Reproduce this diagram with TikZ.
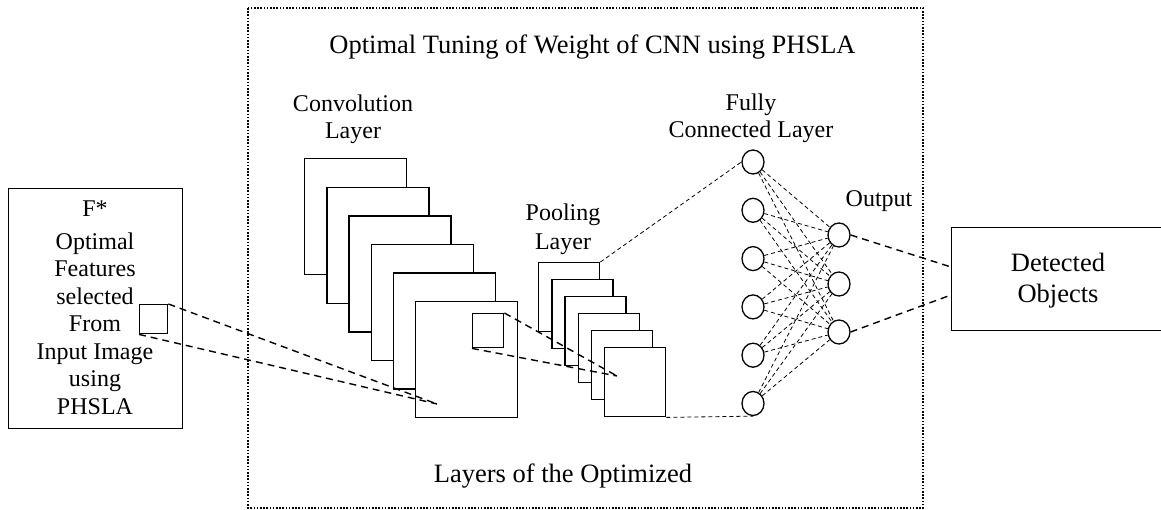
\documentclass[tikz,border=0pt]{standalone}
\usepackage{fontspec}
\setmainfont{Liberation Serif}
\usetikzlibrary{shapes.geometric}
\begin{document}
\begin{tikzpicture}[x=1pt,y=-1pt,
  lbl/.style={font=\fontsize{24}{27.5}\selectfont, inner sep=0pt, anchor=base, align=center},
  biglbl/.style={font=\fontsize{26.5}{31}\selectfont, inner sep=0pt, anchor=base, align=center},
  sq/.style={draw, line width=1.4pt, fill=white, inner sep=0pt, anchor=north west},
  neuron/.style={draw, line width=1.3pt, ellipse, minimum width=22pt, minimum height=24pt, inner sep=0pt, fill=white},
  thickdash/.style={line width=1.4pt, dash pattern=on 7pt off 5pt},
  thindash/.style={line width=0.8pt, dash pattern=on 4pt off 3pt},
  dotbox/.style={line width=1.6pt, dash pattern=on 1.6pt off 1.6pt},
  boxst/.style={draw, line width=1.4pt, inner sep=0pt}
]
\useasboundingbox (0,0) rectangle (1161,510);

% outer dotted box
\draw[dotbox] (248,8) rectangle (923,508);
\node[biglbl] (title) at (592.5,54) {Optimal Tuning of Weight of CNN using PHSLA};
\node[biglbl] (bottomlbl) at (563,482) {Layers of the Optimized};

% left input box
\node[boxst, minimum width=174pt, minimum height=240pt, anchor=north west] (inbox) at (8,188) {};
\node[lbl] (fstar) at (95,217) {F*};
\node[lbl] (intext) at (95,414) {Optimal\\Features\\selected\\From\\Input Image\\using\\PHSLA};
\node[sq, minimum width=28pt, minimum height=29pt] (ls) at (139,304) {};

% convolution layers
\node[lbl] (convlbl) at (353,139) {Convolution\\Layer};
\foreach \i in {0,...,5}{
  \node[sq, minimum width=102pt, minimum height=116pt] (c\i) at ({304+22.2*\i},{158+28.6*\i}) {};
}
\node[sq, minimum width=31pt, minimum height=34pt] (cs) at (472,313) {};
\coordinate (cfocus) at (437,404);
\draw[thickdash] (ls.north east) -- (cfocus);
\draw[thickdash] (ls.south west) -- (cfocus);

% pooling layers
\node[lbl, font=\fontsize{24}{29}\selectfont] (poollbl) at (563,250) {Pooling\\Layer};
\foreach \i in {0,...,5}{
  \node[sq, minimum width=61pt, minimum height=69pt] (p\i) at ({538+13.2*\i},{262+17*\i}) {};
}
\coordinate (pfocus) at (617,376);
\draw[thickdash] (cs.north east) -- (pfocus);
\draw[thickdash] (cs.south west) -- (pfocus);

% fully connected layer
\node[lbl] (fclbl) at (751,138) {Fully\\Connected Layer};
\foreach \i in {0,...,5}{
  \node[neuron] (f\i) at (753,{162+48.3*\i}) {};
}
% output layer
\node[lbl] (outlbl) at (879,207) {Output};
\node[neuron] (o0) at (839,235) {};
\node[neuron] (o1) at (839,284) {};
\node[neuron] (o2) at (839,332) {};

\foreach \i in {0,...,5}{
  \foreach \j in {0,1,2}{
    \draw[thindash] (f\i) -- (o\j);
  }
}
\draw[thindash] (p0.north east) -- (f0.west);
\draw[thindash] (p5.south east) -- (f5.south);

% detected objects
\node[boxst, minimum width=215pt, minimum height=103pt, anchor=north west] (det) at (951,227) {};
\node[biglbl] (dettext) at (1058,303) {Detected\\Objects};
\coordinate (d1) at (951,267);
\coordinate (d2) at (951,295);
\draw[thickdash] (o0.east) -- (d1);
\draw[thickdash] (o2.east) -- (d2);
\end{tikzpicture}
\end{document}
